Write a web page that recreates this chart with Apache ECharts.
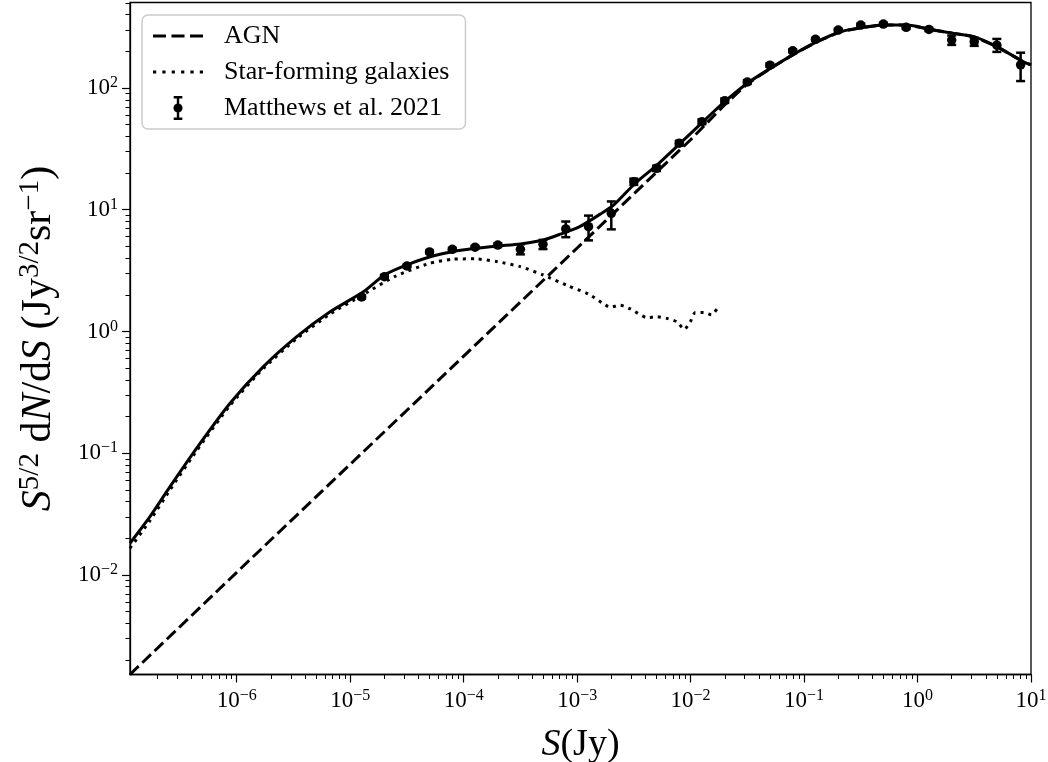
<!DOCTYPE html>
<html>
<head>
<meta charset="utf-8">
<script src="https://cdn.jsdelivr.net/npm/echarts@6/dist/echarts.min.js"></script>
<style>html,body{margin:0;padding:0;background:#fff;}#c{width:1048px;height:762px;}</style>
</head>
<body>
<div id="c"></div>
<script>
// ---- data ----
const totalS = [1.146e-7, 1.718e-7, 2.582e-7, 4.436e-7, 8.73e-7, 1.718e-6, 3.381e-6, 6.65e-6, 1.306e-5, 2.004e-5, 3.155e-5, 5.07e-5, 7.96e-5, 1.262e-4, 2.004e-4, 3.17e-4, 5.02e-4, 7.1e-4, 1.064e-3, 1.596e-3, 2.094e-3, 3.25e-3, 5.06e-3, 8.13e-3, 1.262e-2, 1.995e-2, 3.14e-2, 5.05e-2, 8.09e-2, 0.1303, 0.2089, 0.3357, 0.501, 0.809, 1.30, 2.084, 3.133, 5.035, 8.59, 10];
const totalY = [0.0182, 0.0301, 0.0531, 0.110, 0.257, 0.514, 0.906, 1.45, 2.12, 2.91, 3.52, 4.11, 4.52, 4.82, 5.04, 5.23, 5.64, 6.3, 7.3, 9.2, 10.9, 16.5, 23.3, 35.2, 51.9, 77.2, 109, 145, 189, 240, 290, 315, 329, 329, 303, 281, 264, 218, 164, 155];

const agnS = [1.146e-7, 1e-6, 1e-5, 1e-4, 1e-3, 1e-2, 2e-2, 3.16e-2, 5.05e-2, 8.09e-2, 0.1303, 0.2089, 0.3357, 0.501, 0.809, 1.30, 2.084, 3.133, 5.035, 8.59, 10];
const agnY = [1.52e-3, 1.05e-2, 0.081, 0.627, 4.85, 37.6, 73, 108, 145, 189, 240, 290, 315, 329, 329, 303, 281, 264, 218, 164, 155];

const sfgS = [1.146e-7, 1.718e-7, 2.582e-7, 4.436e-7, 8.73e-7, 1.718e-6, 3.381e-6, 6.65e-6, 1.306e-5, 2.512e-5, 5.01e-5, 7.94e-5, 1.259e-4, 1.995e-4, 3.16e-4, 5.01e-4, 8.13e-4, 1.259e-3, 1.66e-3, 1.95e-3, 2.40e-3, 2.95e-3, 4.12e-3, 5.06e-3, 6.19e-3, 7.59e-3, 8.79e-3, 9.93e-3, 1.099e-2, 1.303e-2, 1.524e-2, 1.766e-2];
const sfgY = [0.0166, 0.0279, 0.050, 0.105, 0.247, 0.497, 0.874, 1.39, 2.01, 2.85, 3.63, 3.92, 3.95, 3.74, 3.41, 2.91, 2.39, 2.03, 1.72, 1.58, 1.64, 1.53, 1.30, 1.32, 1.28, 1.20, 1.04, 1.20, 1.43, 1.43, 1.37, 1.60];

const obsS = [1.26e-5, 2.0e-5, 3.16e-5, 5.0e-5, 7.94e-5, 1.26e-4, 2.0e-4, 3.16e-4, 5.0e-4, 7.94e-4, 1.26e-3, 2.0e-3, 3.16e-3, 5.0e-3, 7.94e-3, 1.26e-2, 2.0e-2, 3.16e-2, 5.0e-2, 7.94e-2, 0.126, 0.2, 0.316, 0.5, 0.794, 1.26, 2.0, 3.16, 5.0, 8.1];
const obsY = [1.92, 2.82, 3.45, 4.5, 4.73, 4.92, 5.13, 4.73, 5.2, 6.95, 7.26, 9.35, 17.0, 21.9, 35.2, 52.9, 78.7, 112, 154, 202, 251, 299, 329, 335, 315, 303, 248, 240, 225, 155];
const obsLo = [1.86, 2.74, 3.36, 4.38, 4.6, 4.8, 4.95, 4.3, 4.75, 5.95, 5.6, 6.9, 16.0, 20.8, 33.6, 50.5, 75.5, 108, 149, 196, 244, 291, 320, 326, 306, 294, 226, 222, 198, 114];
const obsHi = [1.98, 2.9, 3.54, 4.62, 4.86, 5.04, 5.31, 5.2, 5.65, 8.0, 8.95, 11.7, 18.0, 23.0, 36.8, 55.3, 82, 116, 159, 208, 258, 307, 338, 344, 324, 312, 270, 258, 253, 195];

const xMajorTicks = [1e-6, 1e-5, 1e-4, 1e-3, 1e-2, 1e-1, 1e0, 1e1];
const xTickExp = ['−6', '−5', '−4', '−3', '−2', '−1', '0', '1'];
const yMajorTicks = [1e-2, 1e-1, 1e0, 1e1, 1e2];
const yTickExp = ['−2', '−1', '0', '1', '2'];
const xMinorDecades = [1e-7, 1e-6, 1e-5, 1e-4, 1e-3, 1e-2, 1e-1, 1e0];
const yMinorDecades = [1e-3, 1e-2, 1e-1, 1e0, 1e1, 1e2];
const minorMult = [2, 3, 4, 5, 6, 7, 8, 9];

const legendNames = ['AGN', 'Star-forming galaxies', 'Matthews et al. 2021'];

// ---- options ----
const X_MIN = 1.146e-7, X_MAX = 10, Y_MIN = 1.52e-3, Y_MAX = 504;
const FONT = "'Liberation Serif', 'Times New Roman', serif";
const zip = (a, b) => a.map((v, i) => [v, b[i]]);
const minors = (decs, lo, hi) => {
  const out = [];
  decs.forEach(d => minorMult.forEach(m => { const v = d * m; if (v > lo && v < hi) out.push(v); }));
  return out;
};
const expLabel = (ticks, exps) => v => {
  let best = 0, bd = Infinity;
  ticks.forEach((t, i) => { const d = Math.abs(Math.log10(t) - Math.log10(v)); if (d < bd) { bd = d; best = i; } });
  return '{b|10}{s|' + exps[best] + '}';
};
const tickRich = {
  b: { fontFamily: FONT, fontSize: 23, lineHeight: 26, color: '#000' },
  s: { fontFamily: FONT, fontSize: 16, lineHeight: 12, verticalAlign: 'top', color: '#000' }
};
const lineAx = { show: true, lineStyle: { color: '#000', width: 1.3 } };

// legend icons (line samples / marker with error bar)
const dashIcon = 'path://M0,0H13V3H0Z M18.5,0H31.5V3H18.5Z M37,0H50V3H37Z';
const dotIcon = 'path://M0,0H3.2V3.2H0Z M9.36,0H12.56V3.2H9.36Z M18.72,0H21.92V3.2H18.72Z M28.08,0H31.28V3.2H28.08Z M37.44,0H40.64V3.2H37.44Z M46.8,0H50V3.2H46.8Z';
const errIcon = 'path://M0.5,0H9.5V2.5H6.25V22.5H9.5V25H0.5V22.5H3.75V2.5H0.5Z M5,7.75A4.75,4.75 0 1 1 4.99,7.75Z';

const option = {
  animation: false,
  backgroundColor: '#fff',
  grid: { left: 130, right: 17, top: 2.5, bottom: 87.5, show: true, borderColor: '#000', borderWidth: 1.3, outerBoundsMode: 'none', containLabel: false },
  legend: {
    data: [
      { name: legendNames[0], icon: dashIcon, itemStyle: { color: '#000' } },
      { name: legendNames[1], icon: dotIcon, itemStyle: { color: '#000' } },
      { name: legendNames[2], icon: errIcon, itemStyle: { color: '#000' } }
    ],
    orient: 'vertical', left: 142, top: 15,
    itemWidth: 50, itemHeight: 24, itemGap: 10,
    padding: [8, 16, 8, 11],
    backgroundColor: 'rgba(255,255,255,0.85)', borderColor: '#cccccc', borderWidth: 1.5, borderRadius: 6,
    textStyle: { fontFamily: FONT, fontSize: 26, lineHeight: 24, color: '#000', padding: [0, 0, 0, 16] },
    selectedMode: false
  },
  xAxis: [
    {
      type: 'log', min: X_MIN, max: X_MAX, position: 'bottom',
      axisLine: lineAx,
      axisTick: { show: true, inside: false, length: 8, lineStyle: { color: '#000', width: 1.2 }, customValues: xMajorTicks },
      axisLabel: { show: true, margin: 13, customValues: xMajorTicks, formatter: expLabel(xMajorTicks, xTickExp), rich: tickRich },
      splitLine: { show: false }, minorTick: { show: false },
      name: '{i|S}{r|(Jy)}', nameLocation: 'middle', nameGap: 52,
      nameTextStyle: { rich: {
        i: { fontFamily: FONT, fontStyle: 'italic', fontSize: 38, color: '#000' },
        r: { fontFamily: FONT, fontSize: 38, color: '#000' } } }
    },
    {
      type: 'log', min: X_MIN, max: X_MAX, position: 'bottom',
      axisLine: { show: false },
      axisTick: { show: true, inside: false, length: 4.5, lineStyle: { color: '#000', width: 1 }, customValues: minors(xMinorDecades, X_MIN, X_MAX) },
      axisLabel: { show: false }, splitLine: { show: false }
    }
  ],
  yAxis: [
    {
      type: 'log', min: Y_MIN, max: Y_MAX, position: 'left',
      axisLine: lineAx,
      axisTick: { show: true, inside: false, length: 8, lineStyle: { color: '#000', width: 1.2 }, customValues: yMajorTicks },
      axisLabel: { show: true, margin: 12, customValues: yMajorTicks, formatter: expLabel(yMajorTicks, yTickExp), rich: tickRich },
      splitLine: { show: false }, minorTick: { show: false },
      name: '{i|S}{s|5/2}{r| d}{i|N}{r|/d}{i|S}{r| (Jy}{s|3/2}{r|sr}{s|−1}{r|)}',
      nameLocation: 'middle', nameRotate: 90, nameGap: 68,
      nameTextStyle: { rich: {
        i: { fontFamily: FONT, fontStyle: 'italic', fontSize: 42, lineHeight: 46, color: '#000' },
        r: { fontFamily: FONT, fontSize: 42, lineHeight: 46, color: '#000' },
        s: { fontFamily: FONT, fontSize: 29, lineHeight: 24, verticalAlign: 'top', color: '#000' } } }
    },
    {
      type: 'log', min: Y_MIN, max: Y_MAX, position: 'left',
      axisLine: { show: false },
      axisTick: { show: true, inside: false, length: 4.5, lineStyle: { color: '#000', width: 1 }, customValues: minors(yMinorDecades, Y_MIN, Y_MAX) },
      axisLabel: { show: false }, splitLine: { show: false }
    }
  ],
  series: [
    {
      name: 'Total', type: 'line', data: zip(totalS, totalY), showSymbol: false, symbol: 'none',
      smooth: 0.25,
      lineStyle: { color: '#000', width: 3 }, z: 3
    },
    {
      name: legendNames[0], type: 'line', data: zip(agnS, agnY), showSymbol: false, symbol: 'none',
      itemStyle: { color: '#000' },
      lineStyle: { color: '#000', width: 3, type: [12, 5] }, z: 3
    },
    {
      name: legendNames[1], type: 'line', data: zip(sfgS, sfgY), showSymbol: false, symbol: 'none',
      smooth: 0.2,
      itemStyle: { color: '#000' },
      lineStyle: { color: '#000', width: 3, type: [3, 5] }, z: 3
    },
    {
      name: legendNames[2], type: 'scatter', data: zip(obsS, obsY), symbol: 'circle', symbolSize: 9.5,
      itemStyle: { color: '#000', opacity: 1 }, z: 4
    },
    {
      name: 'errors', type: 'custom', data: obsS.map((s, i) => [s, obsLo[i], obsHi[i]]),
      encode: { x: 0, y: [1, 2] }, z: 4,
      renderItem: (params, api) => {
        const x = api.value(0), lo = api.value(1), hi = api.value(2);
        const a = api.coord([x, lo]), b = api.coord([x, hi]);
        const cw = 4.5, st = { stroke: '#000', lineWidth: 2.5 };
        return { type: 'group', children: [
          { type: 'line', shape: { x1: a[0], y1: a[1], x2: b[0], y2: b[1] }, style: st },
          { type: 'line', shape: { x1: a[0] - cw, y1: a[1], x2: a[0] + cw, y2: a[1] }, style: st },
          { type: 'line', shape: { x1: b[0] - cw, y1: b[1], x2: b[0] + cw, y2: b[1] }, style: st }
        ] };
      }
    }
  ]
};
const chart = echarts.init(document.getElementById('c'), null, { renderer: 'canvas' });
chart.setOption(option);
</script>
</body>
</html>
